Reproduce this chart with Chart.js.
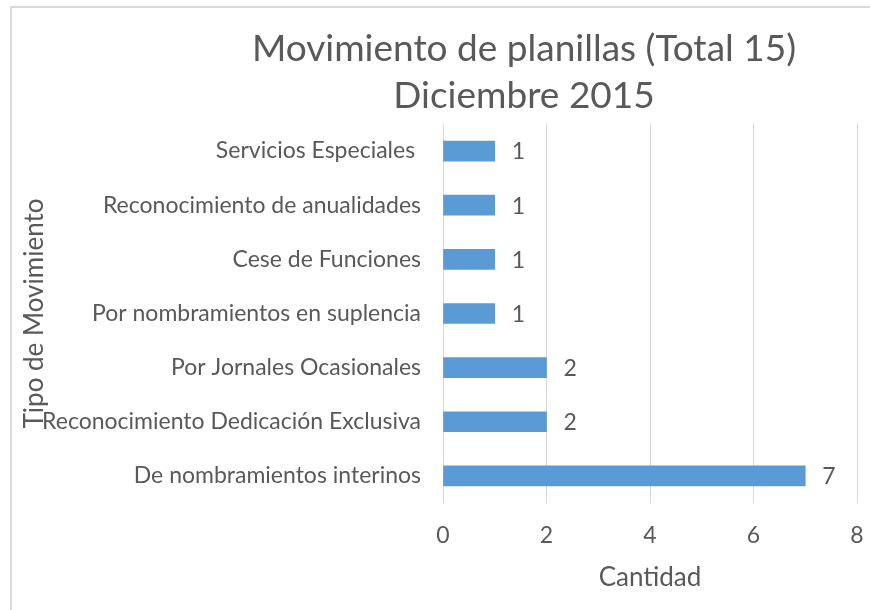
<!DOCTYPE html>
<html><head><meta charset="utf-8">
<script src="https://cdn.jsdelivr.net/npm/chart.js@4.4.0/dist/chart.umd.min.js"></script>
<style>
html,body{margin:0;padding:0;background:#fff;}
#wrap{position:relative;width:870px;height:610px;overflow:hidden;}
#frame{position:absolute;left:10px;top:6px;right:-5px;bottom:-5px;border-top:2px solid #d9d9d9;border-left:2px solid #d9d9d9;pointer-events:none;}
canvas{position:absolute;left:0;top:0;}
</style></head><body>
<div id="wrap"><canvas id="c" width="870" height="610"></canvas><div id="frame"></div></div>
<script>
const titleLines = ['Movimiento de planillas (Total 15)', 'Diciembre 2015'];
const categories = [
  'Servicios Especiales ',
  'Reconocimiento de anualidades',
  'Cese de Funciones',
  'Por nombramientos en suplencia',
  'Por Jornales Ocasionales',
  'Reconocimiento Dedicación Exclusiva',
  'De nombramientos interinos'
];
const values = [1, 1, 1, 1, 2, 2, 7];
const xTicks = [0, 2, 4, 6, 8];
const xTitle = 'Cantidad';
const yTitle = 'Tipo de Movimiento';

const TEXT = '#595959';
const FONT = 'Lato';

const valueLabels = {
  id: 'valueLabels',
  afterDatasetsDraw(chart) {
    const ctx = chart.ctx;
    const meta = chart.getDatasetMeta(0);
    ctx.save();
    ctx.font = '23px ' + FONT;
    ctx.fillStyle = TEXT;
    ctx.textAlign = 'left';
    ctx.textBaseline = 'middle';
    meta.data.forEach((bar, i) => {
      ctx.fillText(String(values[i]), bar.x + 17, bar.y + 1);
    });
    ctx.restore();
  }
};

const shiftTitle = {
  id: 'shiftTitle',
  afterLayout(chart) {
    if (chart.titleBlock) { chart.titleBlock.left = 178; chart.titleBlock.right = 870; }
  }
};

new Chart(document.getElementById('c'), {
  type: 'bar',
  data: {
    labels: categories,
    datasets: [{
      data: values,
      backgroundColor: '#5B9BD5',
      borderWidth: 0,
      barThickness: 20
    }]
  },
  options: {
    indexAxis: 'y',
    responsive: false,
    animation: false,
    layout: { padding: { left: 0, right: 13, top: 0, bottom: 0 } },
    plugins: {
      legend: { display: false },
      tooltip: { enabled: false },
      title: {
        display: true,
        text: titleLines,
        color: TEXT,
        font: { family: FONT, size: 37, weight: 'normal', lineHeight: 1.27 },
        padding: { top: 26, bottom: 4 }
      }
    },
    scales: {
      x: {
        min: 0, max: 8,
        afterBuildTicks(scale) { scale.ticks = xTicks.map(v => ({ value: v })); },
        afterFit(scale) { scale.height = 107; scale.paddingRight = 0; scale.paddingLeft = 0; },
        grid: { color: '#d9d9d9', lineWidth: 1, drawTicks: false },
        border: { display: false },
        ticks: { color: TEXT, font: { family: FONT, size: 23 }, padding: 19 },
        title: { display: true, text: xTitle, color: TEXT, font: { family: FONT, size: 26 }, padding: { top: 0, bottom: 17 } }
      },
      y: {
        afterFit(scale) { scale.width = 443; },
        grid: { display: false, drawTicks: false },
        border: { display: false },
        ticks: { color: TEXT, font: { family: FONT, size: 23 }, padding: 22 },
        title: { display: true, text: yTitle, color: TEXT, font: { family: FONT, size: 26 }, padding: { top: 19, bottom: 0 } }
      }
    }
  },
  plugins: [valueLabels, shiftTitle]
});
</script>
</body></html>
